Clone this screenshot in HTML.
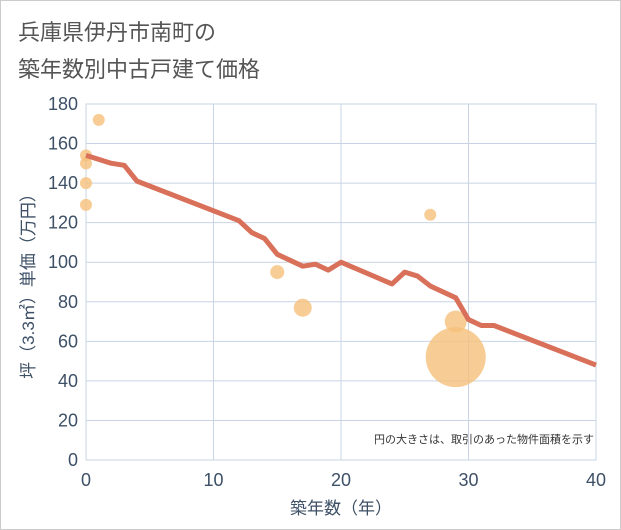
<!DOCTYPE html>
<html><head><meta charset="utf-8"><style>
body{margin:0;background:#fff;font-family:"Liberation Sans","Noto Sans CJK JP",sans-serif;}
#wrap{position:relative;width:619px;height:528px;border:1px solid #ccc;background:#fff;}
</style></head><body>
<div id="wrap">
<svg id="chart" width="621" height="530" style="position:absolute;left:-1px;top:-1px">
<text x="18" y="40" font-size="22" fill="#555" font-family="Liberation Sans, Noto Sans CJK JP, sans-serif">兵庫県伊丹市南町の</text>
<text x="18" y="77" font-size="22" fill="#555" font-family="Liberation Sans, Noto Sans CJK JP, sans-serif">築年数別中古戸建て価格</text>
<g id="grid"></g><g id="axes"></g><g id="bubbles"></g><g id="line"></g>
<text x="594" y="443" font-size="11" fill="#333" text-anchor="end" font-family="Liberation Sans, Noto Sans CJK JP, sans-serif">円の大きさは、取引のあった物件面積を示す</text>
<text x="341" y="514" font-size="17" fill="#3d5066" text-anchor="middle" font-family="Liberation Sans, Noto Sans CJK JP, sans-serif">築年数（年）</text>
<text transform="translate(34,282) rotate(-90)" font-size="17" fill="#3d5066" text-anchor="middle" font-family="Liberation Sans, Noto Sans CJK JP, sans-serif">坪（3.3㎡）単価（万円）</text>
</svg></div>
<script>
const xTicks=[0,10,20,30,40];
const yTicks=[0,20,40,60,80,100,120,140,160,180];
const lineX=[0,1,2,3,4,12,13,14,15,17,18,19,20,24,25,26,27,29,30,31,32,40];
const lineY=[154,152,150,149,141,121,115,112,104,98,99,96,100,89,95,93,88,82,71,68,68,48];
const bubX=[0,0,0,0,1,15,17,27,29,29];
const bubY=[154,150,140,129,172,95,77,124,70,52];
const bubR=[6,6,6,6,6,7,9,6,11,30];
const NS="http://www.w3.org/2000/svg";
const x0=86,x1=596,y0=460,y1=104;
const sx=v=>x0+(x1-x0)*v/40, sy=v=>y0-(y0-y1)*v/180;
function mk(t,a,p){const e=document.createElementNS(NS,t);for(const k in a)e.setAttribute(k,a[k]);p.appendChild(e);return e;}
const grid=document.getElementById('grid'),axes=document.getElementById('axes');
mk('rect',{x:x0,y:y1,width:x1-x0,height:y0-y1,fill:'none',stroke:'#c8d4e6'},grid);
yTicks.forEach(v=>{const l=mk('line',{x1:x0,x2:x1,y1:sy(v),y2:sy(v),stroke:'#c8d4e6'},grid);


const t=mk('text',{x:x0-8,y:sy(v)+6,'font-size':18,fill:'#3d5066','text-anchor':'end'},axes);t.textContent=v;

});
xTicks.forEach(v=>{const l=mk('line',{x1:sx(v),x2:sx(v),y1:y1,y2:y0,stroke:'#c8d4e6'},grid);


const t=mk('text',{x:sx(v),y:y0+26,'font-size':18,fill:'#3d5066','text-anchor':'middle'},axes);t.textContent=v;

});
const bg=document.getElementById('bubbles');
bubX.forEach((v,i)=>{const c=mk('circle',{cx:sx(v),cy:sy(bubY[i]),r:bubR[i],fill:'#f5c07a',opacity:0.8},bg);

});
const p=mk('polyline',{points:lineX.map((v,i)=>sx(v)+','+sy(lineY[i])).join(' '),fill:'none',stroke:'#d9705a','stroke-width':5,'stroke-linejoin':'round'},document.getElementById('line'));


</script>
</body></html>
